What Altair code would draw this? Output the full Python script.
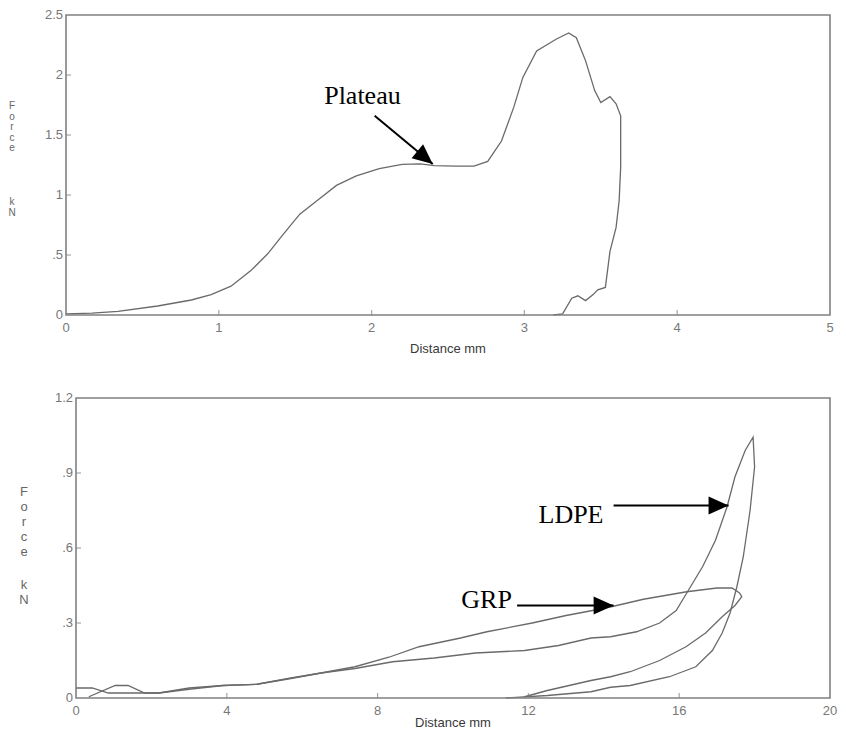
import math
import altair as alt
import pandas as pd

# ---------------- data ----------------
TOP_X = [0, 0.17, 0.34, 0.60, 0.82, 0.95, 1.08, 1.21, 1.32, 1.42, 1.53, 1.64, 1.77,
         1.90, 2.05, 2.20, 2.32, 2.41, 2.55, 2.67, 2.76, 2.85, 2.93, 2.99, 3.08, 3.21,
         3.29, 3.34, 3.40, 3.46, 3.50, 3.56, 3.60, 3.63, 3.63, 3.62, 3.60, 3.56, 3.53,
         3.48, 3.45, 3.40, 3.35, 3.31, 3.25, 3.19]
TOP_Y = [0.01, 0.015, 0.03, 0.075, 0.125, 0.17, 0.24, 0.37, 0.51, 0.67, 0.84, 0.95, 1.08,
         1.16, 1.22, 1.255, 1.26, 1.245, 1.24, 1.24, 1.28, 1.45, 1.73, 1.98, 2.20, 2.30,
         2.35, 2.31, 2.12, 1.87, 1.77, 1.82, 1.76, 1.66, 1.23, 0.95, 0.73, 0.53, 0.23,
         0.21, 0.17, 0.12, 0.16, 0.14, 0.01, 0.0]

GRP_X = [0, 0.43, 0.86, 1.6, 2.2, 3.0, 3.9, 4.8, 5.7, 6.5, 7.4, 8.3, 9.1, 10.2, 10.9,
         12.1, 13.0, 13.7, 14.2, 15.05, 16.2, 17.0, 17.4, 17.6, 17.66, 17.48, 17.14,
         16.7, 16.18, 15.48, 14.7, 14.18, 13.66, 12.5, 11.9]
GRP_Y = [0.04, 0.04, 0.02, 0.02, 0.02, 0.04, 0.05, 0.055, 0.08, 0.10, 0.125, 0.163,
         0.205, 0.24, 0.265, 0.30, 0.33, 0.35, 0.365, 0.395, 0.425, 0.44, 0.44, 0.42,
         0.405, 0.37, 0.325, 0.26, 0.205, 0.15, 0.105, 0.085, 0.07, 0.03, 0.005]

LDPE_X = [0.34, 1.04, 1.38, 1.82, 2.2, 3.0, 3.9, 4.8, 5.7, 6.5, 7.4, 8.4, 9.5, 10.6,
          11.9, 12.8, 13.66, 14.18, 14.87, 15.48, 15.92, 16.22, 16.62, 16.96, 17.27,
          17.48, 17.75, 17.96, 18.0, 17.88, 17.70, 17.53, 17.35, 17.14, 16.88, 16.44,
          15.74, 14.70, 14.18, 13.66, 12.5, 11.4]
LDPE_Y = [0.005, 0.05, 0.05, 0.02, 0.02, 0.035, 0.05, 0.055, 0.078, 0.10, 0.118, 0.145,
          0.16, 0.18, 0.19, 0.21, 0.24, 0.245, 0.265, 0.30, 0.35, 0.425, 0.525, 0.63,
          0.765, 0.885, 0.99, 1.043, 0.925, 0.75, 0.565, 0.445, 0.34, 0.26, 0.19, 0.125,
          0.085, 0.05, 0.043, 0.025, 0.01, 0.0]

TOP_XTICKS = [0, 1, 2, 3, 4, 5]
TOP_YTICKS = [0, 0.5, 1, 1.5, 2, 2.5]
BOT_XTICKS = [0, 4, 8, 12, 16, 20]
BOT_YTICKS = [0, 0.3, 0.6, 0.9, 1.2]

TOP_XDOM = [0, 5]
TOP_YDOM = [0, 2.5]
BOT_XDOM = [0, 20]
BOT_YDOM = [0, 1.2]

X_TITLE = "Distance mm"
Y_TITLE_WORDS = [["F", "o", "r", "c", "e"], ["k", "N"]]

# annotations: label text, label position, arrow start, arrow tip
TOP_LABELS = ["Plateau"]
TOP_LABEL_X = [1.94]
TOP_LABEL_Y = [1.825]
TOP_ARROW = [(2.02, 1.66, 2.40, 1.258)]

BOT_LABELS = ["LDPE", "GRP"]
BOT_LABEL_X = [13.13, 10.89]
BOT_LABEL_Y = [0.732, 0.392]
BOT_ARROWS = [(14.26, 0.77, 17.31, 0.77), (11.70, 0.37, 14.26, 0.37)]

# ---------------- styling ----------------
W = 764
H = 300
BOT_SHIFT = 10          # bottom plot frame starts 10px right of the top one
GREY = "#808080"
LINE = "#6a6a6a"
LABEL = "#777777"
SANS = "Liberation Sans"
SERIF = "Liberation Serif"
HEAD = "M0,0L-0.45,1L0.45,1Z"   # arrowhead, tip at the origin, pointing up


def fmt(v):
    s = f"{v:g}"
    return s[1:] if s.startswith("0.") else s


def panel(series, xdom, ydom, shift, xticks, yticks, yt_cfg, yt_dys, xlab_dy, xtitle_dy,
          labels, lx, ly, arrows):
    span = xdom[1] - xdom[0]
    x_lo = xdom[0] - span * shift / (W - shift)
    xs = alt.Scale(domain=[x_lo, xdom[1]], nice=False, zero=False)
    ys = alt.Scale(domain=ydom, nice=False, zero=False)

    def X(f):
        return alt.X(f, scale=xs, axis=None)

    def Y(f):
        return alt.Y(f, scale=ys, axis=None)

    rows = []
    for name, xv, yv in series:
        for i, (a, b) in enumerate(zip(xv, yv)):
            rows.append({"series": name, "i": i, "x": a, "y": b})
    df = pd.DataFrame(rows)

    lines = alt.Chart(df).mark_line(color=LINE, strokeWidth=1.3, interpolate="linear").encode(
        x=X("x:Q"), y=Y("y:Q"), detail="series:N", order="i:Q")

    fdf = pd.DataFrame({"x0": [xdom[0]], "x1": [xdom[1]], "y0": [ydom[0]], "y1": [ydom[1]]})
    frame = alt.Chart(fdf).mark_rect(fillOpacity=0, stroke=GREY, strokeWidth=1.6).encode(
        x=X("x0:Q"), x2="x1:Q", y=Y("y0:Q"), y2="y1:Q")

    xdf = pd.DataFrame({"v": xticks, "b": [ydom[0]] * len(xticks),
                        "t": [fmt(v) for v in xticks]})
    ydf = pd.DataFrame({"v": yticks, "b": [xdom[0]] * len(yticks),
                        "t": [fmt(v) for v in yticks]})

    xt = alt.Chart(xdf.iloc[1:-1]).mark_tick(
        orient="vertical", size=5, thickness=1.2, color=GREY, yOffset=-2.5
    ).encode(x=X("v:Q"), y=Y("b:Q"))
    yt = alt.Chart(ydf.iloc[1:-1]).mark_tick(
        orient="horizontal", size=5, thickness=1.2, color=GREY, xOffset=2.5
    ).encode(y=Y("v:Q"), x=X("b:Q"))

    xl = alt.Chart(xdf).mark_text(font=SANS, fontSize=13, color=LABEL, align="center",
                                  baseline="middle", dy=xlab_dy).encode(
        x=X("v:Q"), y=Y("b:Q"), text="t:N")
    yl = alt.Chart(ydf).mark_text(font=SANS, fontSize=13, color=LABEL, align="right",
                                  baseline="middle", dx=-3).encode(
        x=X("b:Q"), y=Y("v:Q"), text="t:N")

    tdf_x = pd.DataFrame({"t": [X_TITLE], "x": [(xdom[0] + xdom[1]) / 2], "y": [ydom[0]]})
    xtitle = alt.Chart(tdf_x).mark_text(font=SANS, fontSize=13, color="#3a3a3a", align="center",
                                        baseline="middle", dy=xtitle_dy).encode(
        x=X("x:Q"), y=Y("y:Q"), text="t:N")

    layers = [lines, frame, xt, yt, xl, yl, xtitle]

    for word, dy in zip(Y_TITLE_WORDS, yt_dys):
        wdf = pd.DataFrame({"t": ["\n".join(word)], "x": [xdom[0]], "y": [ydom[1]]})
        layers.append(alt.Chart(wdf).mark_text(
            font=SANS, color="#666666", align="center", baseline="top", lineBreak="\n",
            dy=dy, **yt_cfg).encode(x=X("x:Q"), y=Y("y:Q"), text="t:N"))

    adf_t = pd.DataFrame({"t": labels, "x": lx, "y": ly})
    layers.append(alt.Chart(adf_t).mark_text(
        font=SERIF, fontSize=26, color="black", align="center", baseline="middle"
    ).encode(x=X("x:Q"), y=Y("y:Q"), text="t:N"))

    xr = (W - shift) / span
    yr = H / (ydom[1] - ydom[0])
    angs = []
    for (x0, y0, x1, y1) in arrows:
        px = (x1 - x0) * xr
        py = -(y1 - y0) * yr
        angs.append((math.degrees(math.atan2(px, -py)) + 360) % 360)
    adf = pd.DataFrame({
        "x0": [a[0] for a in arrows], "y0": [a[1] for a in arrows],
        "x1": [a[2] for a in arrows], "y1": [a[3] for a in arrows], "ang": angs,
    })
    layers.append(alt.Chart(adf).mark_rule(color="black", strokeWidth=2).encode(
        x=X("x0:Q"), y=Y("y0:Q"), x2="x1:Q", y2="y1:Q"))
    layers.append(alt.Chart(adf).mark_point(
        shape=HEAD, size=1600, filled=True, color="black", opacity=1, strokeWidth=0
    ).encode(x=X("x1:Q"), y=Y("y1:Q"), angle=alt.Angle("ang:Q", scale=None)))

    return alt.layer(*layers).properties(width=W, height=H)


top = panel([("top", TOP_X, TOP_Y)], TOP_XDOM, TOP_YDOM, 0, TOP_XTICKS, TOP_YTICKS,
            dict(fontSize=10, lineHeight=10.5, dx=-54), [86, 182], 13, 34,
            TOP_LABELS, TOP_LABEL_X, TOP_LABEL_Y, TOP_ARROW)

bottom = panel([("GRP", GRP_X, GRP_Y), ("LDPE", LDPE_X, LDPE_Y)], BOT_XDOM, BOT_YDOM,
               BOT_SHIFT, BOT_XTICKS, BOT_YTICKS,
               dict(fontSize=13, lineHeight=15, dx=-52), [88, 181], 13, 25,
               BOT_LABELS, BOT_LABEL_X, BOT_LABEL_Y, BOT_ARROWS)

chart = alt.vconcat(top, bottom, spacing=36).properties(
    padding={"left": 0, "top": 1, "right": 0, "bottom": 0}
).configure_view(stroke=None)

chart.save("out.html", embed_options={"renderer": "svg", "actions": False})
